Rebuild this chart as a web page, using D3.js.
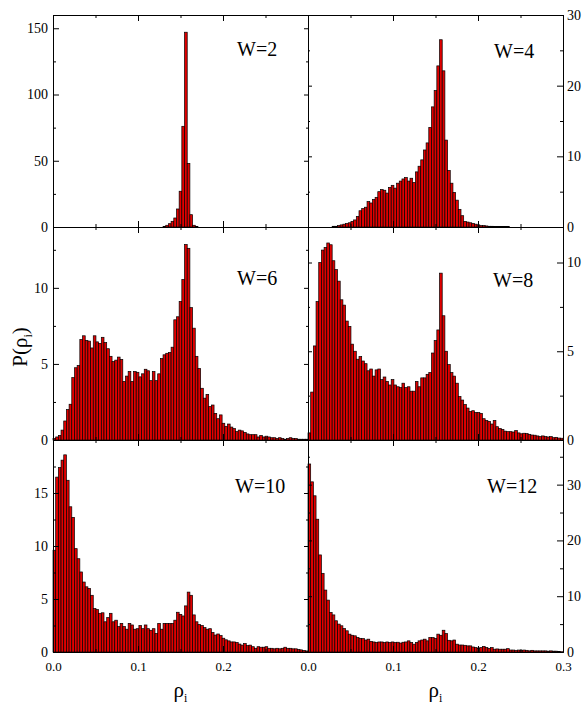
<!DOCTYPE html>
<html><head><meta charset="utf-8">
<script src="https://cdn.jsdelivr.net/npm/d3@7/dist/d3.min.js"></script>
<style>
body{margin:0;background:#fff}
text{font-family:"Liberation Serif","Times New Roman",serif;fill:#000}
</style>
</head><body>
<svg id="c" width="585" height="707"></svg>
<script>
// ---------------- data ----------------
const panelLabels = ["W=2", "W=4", "W=6", "W=8", "W=10", "W=12"];
const xMax = 0.3;
const xMajor = [0, 0.1, 0.2, 0.3];
const xMinor = [0.05, 0.15, 0.25];
const yMax = [160, 30, 14, 12, 20, 38];
const yMajor = [[0, 50, 100, 150], [0, 10, 20, 30], [0, 5, 10], [0, 5, 10], [0, 5, 10, 15], [0, 10, 20, 30]];
const yMinor = [[25, 75, 125], [5, 15, 25], [2.5, 7.5, 12.5], [2.5, 7.5], [2.5, 7.5, 12.5, 17.5], [5, 15, 25, 35]];

const w2 = [0,0,0,0,0,0,0,0,0,0,0,0,0,0,0,0,0,0,0,0,0,0,0,0,0,0,0,0,0,0,0,0,0,0,0,0,0,0,0,0,0,0.5,1.3,2.5,4.3,6.8,13.6,27,76,147,48,9.3,1.3,0.3,0,0,0,0,0,0,0,0,0,0,0,0,0,0,0,0,0,0,0,0,0,0,0,0,0,0,0,0,0,0,0,0,0,0,0,0,0,0,0,0,0];
const w4 = [0,0,0,0,0,0,0,0,0,0.1,0.1,0.2,0.3,0.4,0.5,0.6,0.8,1.0,1.5,2.3,2.6,2.8,3.6,3.4,3.9,4.2,5.0,5.3,5.2,4.8,5.6,5.9,5.5,6.2,6.5,6.8,7.0,6.5,6.9,6.3,7.8,8.6,9.5,10.9,11.9,14.1,17.0,19.3,22.8,26.5,22.1,12.3,8.0,6.2,4.9,3.8,2.5,1.6,0.8,0.7,0.6,0.5,0.4,0.3,0.2,0.2,0.15,0.1,0.1,0.05,0.05,0.05,0.05,0.05,0.05,0,0,0,0,0,0,0,0,0,0,0,0,0,0,0,0,0,0,0,0];
const w6 = [0.1,0.2,0.3,0.65,1.25,2.0,2.35,4.1,4.75,4.9,6.6,6.85,6.55,6.5,6.05,6.85,6.45,6.35,6.75,6.4,6.0,5.5,5.15,5.25,5.45,5.3,3.85,4.2,4.5,3.85,4.5,4.45,4.15,4.35,4.65,4.55,3.9,4.5,3.9,4.35,5.35,5.6,5.7,5.75,6.1,7.9,8.1,9.1,10.55,12.85,12.6,8.7,7.35,5.5,4.7,3.4,2.75,3.0,2.2,2.3,1.75,1.4,1.65,1.1,0.9,1.05,0.85,0.75,0.55,0.65,0.6,0.5,0.4,0.35,0.35,0.35,0.2,0.3,0.2,0.25,0.2,0.15,0.15,0.1,0.15,0.1,0.05,0.1,0.15,0.1,0.1,0.05,0.05,0.05,0.05];
const w8 = [0.4,2.7,5.3,7.8,10.0,10.7,10.85,11.1,11.0,10.1,9.6,8.95,7.9,7.6,6.7,6.4,5.4,5.0,4.55,4.7,4.45,4.3,3.9,4.0,3.6,3.95,4.0,3.4,3.55,3.3,3.1,3.4,3.1,3.0,2.95,3.2,2.95,3.0,2.75,2.75,3.3,3.0,3.5,3.5,3.7,3.8,4.9,5.6,6.2,9.4,7.0,5.0,4.25,3.8,3.6,3.2,2.45,2.25,2.0,1.8,1.6,1.65,1.55,1.55,1.5,1.2,1.1,1.05,0.9,1.1,0.75,0.65,0.6,0.5,0.47,0.47,0.45,0.53,0.4,0.35,0.38,0.36,0.32,0.28,0.27,0.23,0.19,0.23,0.19,0.17,0.19,0.13,0.15,0.11,0.1];
const w10 = [9.6,16.5,17.4,18.1,18.6,16.2,13.7,12.7,9.75,8.8,7.55,6.6,6.15,6.0,5.35,4.1,4.0,3.65,3.7,2.85,3.25,3.65,2.85,3.0,2.4,2.7,2.4,2.15,2.7,2.55,2.15,2.2,2.5,2.2,2.55,2.2,2.05,2.2,1.75,2.7,2.15,2.7,2.7,2.7,2.7,3.0,3.75,3.55,3.4,4.35,5.65,5.35,3.5,2.85,2.6,2.5,2.3,2.15,2.2,1.85,1.6,1.7,1.55,1.3,1.15,1.05,0.95,0.95,0.9,0.75,0.65,0.8,0.6,0.65,0.5,0.35,0.5,0.45,0.45,0.5,0.35,0.35,0.3,0.35,0.3,0.35,0.45,0.35,0.35,0.3,0.3,0.25,0.2,0.15,0.1];
const w12 = [33.7,30.5,28.0,23.8,17.4,14.1,11.1,9.3,7.1,6.65,5.6,5.0,4.7,4.2,3.8,3.2,3.0,2.9,2.6,2.45,2.4,2.15,2.3,1.9,1.8,1.7,1.8,1.8,1.7,1.8,1.7,1.8,1.7,1.75,1.6,1.75,1.8,2.0,1.7,1.4,1.7,2.0,2.15,2.3,2.0,2.6,2.6,2.45,3.2,3.0,3.9,3.3,2.1,2.0,2.15,1.4,1.25,1.25,1.2,1.1,1.1,0.9,0.8,0.65,0.8,1.0,0.8,0.65,0.8,0.5,0.55,0.5,0.5,0.5,0.6,0.35,0.35,0.3,0.35,0.3,0.35,0.3,0.2,0.3,0.2,0.2,0.2,0.2,0.2,0.15,0.2,0.15,0.15,0.1,0.05];
const series = [w2, w4, w6, w8, w10, w12];

// ---------------- layout ----------------
const svg = d3.select("#c");
const colLeft = [53, 308], panelW = 255;
const rowTop = [15, 227, 440], rowBottom = [227, 440, 652];
const labelPos = [[237, 56], [494, 58], [237, 285], [493, 287], [235, 493], [487, 493]];
const barFill = "#e00000";

series.forEach((vals, k) => {
  const col = k % 2, row = Math.floor(k / 2);
  const x = d3.scaleLinear().domain([0, xMax]).range([colLeft[col], colLeft[col] + panelW]);
  const y = d3.scaleLinear().domain([0, yMax[k]]).range([rowBottom[row], rowTop[row]]);
  const binW = xMax / vals.length;
  const g = svg.append("g");

  g.append("g").selectAll("rect").data(vals).join("rect")
    .attr("x", (d, i) => x(i * binW))
    .attr("width", x(binW) - x(0))
    .attr("y", d => y(d))
    .attr("height", d => y(0) - y(d))
    .attr("fill", barFill)
    .attr("stroke", "#000")
    .attr("stroke-width", 0.7);

  const fmtY = d3.format("d");
  const axes = [];
  // left
  axes.push(g.append("g").attr("transform", `translate(${x(0)},0)`)
    .call(d3.axisLeft(y).tickValues(yMajor[k]).tickSize(col === 0 ? -6 : -4).tickSizeOuter(0).tickPadding(5)
      .tickFormat(col === 0 ? fmtY : () => "")));
  axes.push(g.append("g").attr("transform", `translate(${x(0)},0)`)
    .call(d3.axisLeft(y).tickValues(yMinor[k]).tickSize(col === 0 ? -3 : -2).tickSizeOuter(0).tickFormat(() => "")));
  // right
  axes.push(g.append("g").attr("transform", `translate(${x(xMax)},0)`)
    .call(d3.axisRight(y).tickValues(yMajor[k]).tickSize(col === 1 ? -6 : -4).tickSizeOuter(0).tickPadding(4)
      .tickFormat(col === 1 ? fmtY : () => "")));
  axes.push(g.append("g").attr("transform", `translate(${x(xMax)},0)`)
    .call(d3.axisRight(y).tickValues(yMinor[k]).tickSize(col === 1 ? -3 : -2).tickSizeOuter(0).tickFormat(() => "")));
  // bottom
  const xFmt = v => (row === 2 && !(col === 0 && v > 0.25)) ? d3.format(".1f")(v) : "";
  const xb = g.append("g").attr("transform", `translate(0,${y(0)})`)
    .call(d3.axisBottom(x).tickValues(xMajor).tickSize(-6).tickSizeOuter(0).tickPadding(10).tickFormat(xFmt));
  axes.push(xb);
  axes.push(g.append("g").attr("transform", `translate(0,${y(0)})`)
    .call(d3.axisBottom(x).tickValues(xMinor).tickSize(-3).tickSizeOuter(0).tickFormat(() => "")));
  // top
  axes.push(g.append("g").attr("transform", `translate(0,${y(yMax[k])})`)
    .call(d3.axisTop(x).tickValues(xMajor).tickSize(-6).tickSizeOuter(0).tickFormat(() => "")));
  axes.push(g.append("g").attr("transform", `translate(0,${y(yMax[k])})`)
    .call(d3.axisTop(x).tickValues(xMinor).tickSize(-3).tickSizeOuter(0).tickFormat(() => "")));

  axes.forEach(a => {
    a.attr("font-family", null).attr("font-size", null);
    a.select(".domain").attr("stroke", "#000").attr("stroke-width", 1);
    a.selectAll(".tick line").attr("stroke", "#000");
    a.selectAll(".tick text").style("font-size", "14px");
  });
  xb.selectAll(".tick text").style("font-size", "13px");

  g.append("text").attr("x", labelPos[k][0]).attr("y", labelPos[k][1])
    .style("font-size", "20px").text(panelLabels[k]);
});

// axis titles
const yt = svg.append("text").attr("transform", "translate(27,347) rotate(-90)")
  .attr("text-anchor", "middle").style("font-size", "21px");
yt.append("tspan").text("P(ρ");
yt.append("tspan").attr("dy", 5).style("font-size", "12px").text("i");
yt.append("tspan").attr("dy", -5).text(")");

[180.5, 435.5].forEach(cx => {
  const t = svg.append("text").attr("x", cx).attr("y", 697).attr("text-anchor", "middle").style("font-size", "21px");
  t.append("tspan").text("ρ");
  t.append("tspan").attr("dy", 5).style("font-size", "12px").text("i");
});
</script>
</body></html>
